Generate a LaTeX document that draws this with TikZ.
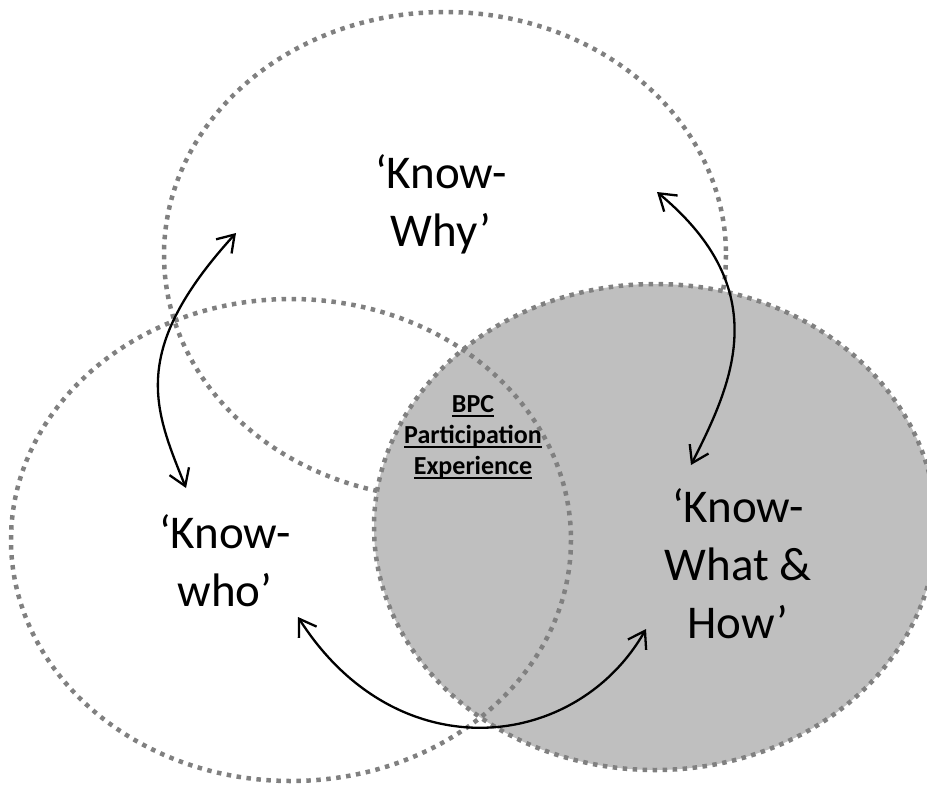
\documentclass[tikz,border=0pt]{standalone}
\usepackage{fontspec}
\setmainfont{Carlito}
\usetikzlibrary{arrows.meta}
\definecolor{dotgray}{RGB}{128,128,128}
\definecolor{fillgray}{RGB}{191,191,191}
\newcommand\myul[1]{\setbox0\hbox{#1}\rlap{\rule[-4.5pt]{\wd0}{2pt}}\box0}
\begin{document}
\begin{tikzpicture}[x=1pt,y=-1pt,
  ring/.style={draw=dotgray, line width=4.5pt, dash pattern=on 4.5pt off 5.5pt},
  bigtext/.style={font={\fontsize{47}{58}\selectfont}, align=center, anchor=base, inner sep=0pt},
  smalltext/.style={font={\fontsize{26}{31}\selectfont\bfseries}, align=center, anchor=base, inner sep=0pt},
  link/.style={line width=2.3pt, {Straight Barb[length=16pt,width=21pt]}-{Straight Barb[length=16pt,width=21pt]}}
]
\useasboundingbox (0,0) rectangle (927,785);
\clip (0,0) rectangle (927,785);
% circles
\draw[ring] (445,255) ellipse [x radius=281, y radius=243];
\fill[fillgray] (655,527) ellipse [x radius=281, y radius=243];
\draw[ring] (655,527) ellipse [x radius=281, y radius=243];
\draw[ring] (291,540) ellipse [x radius=280, y radius=241];
% labels (anchor = baseline of last line)
\node[bigtext] (why) at (441,246) {‘Know-\\Why’};
\node[bigtext] (who) at (225,606) {‘Know-\\who’};
\node[bigtext] (what) at (738,638) {‘Know-\\What \&\\How’};
\node[smalltext] (bpc) at (473,474) {\myul{BPC}\\\myul{Participation}\\\myul{Experience}};
% arrow ends
\coordinate (a1s) at (236,233);
\coordinate (a1e) at (186,488);
\coordinate (a2s) at (657,192);
\coordinate (a2e) at (691,465);
\coordinate (a3s) at (298,617);
\coordinate (a3e) at (646,629);
\draw[link] (a1s) .. controls (128.5,351) and (154,408.5) .. (a1e);
\draw[link] (a2s) .. controls (776,291) and (732,383.5) .. (a2e);
\draw[link] (a3s) .. controls (397,772) and (576,751.5) .. (a3e);
\end{tikzpicture}
\end{document}
